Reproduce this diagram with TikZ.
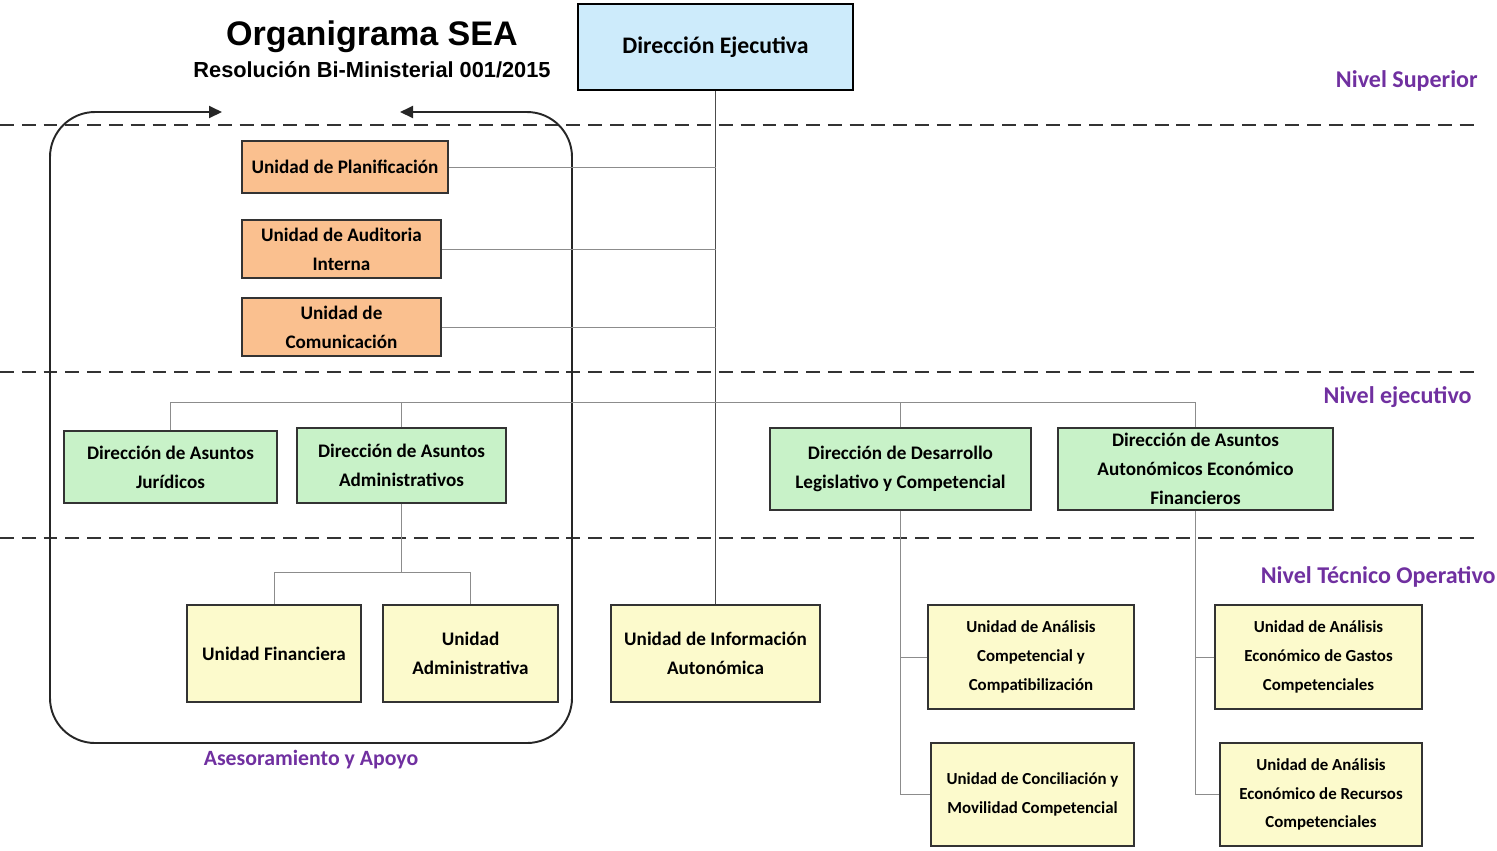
\documentclass[tikz,border=0pt]{standalone}
\usepackage{fontspec}
\setmainfont{Carlito}
\newfontfamily\titlefont{Liberation Sans}
\usetikzlibrary{arrows.meta}

\definecolor{blueBox}{HTML}{CDEBFB}
\definecolor{orangeBox}{HTML}{FAC08F}
\definecolor{greenBox}{HTML}{C8F2C8}
\definecolor{yellowBox}{HTML}{FCFACC}
\definecolor{nivelPurple}{HTML}{7030A0}
\definecolor{connGray}{HTML}{8C8C8C}

\tikzset{
  unit/.style 2 args={minimum width=#1*0.02cm, minimum height=#2*0.02cm,
    inner sep=0pt, align=center, font=\bfseries\fontsize{10.9}{16.4}\selectfont},
  dirbox/.style={draw=black, line width=1.2pt, fill=blueBox},
  planbox/.style={draw=black!80, line width=0.8pt, fill=orangeBox},
  execbox/.style={draw=black!80, line width=0.8pt, fill=greenBox},
  tecbox/.style={draw=black!80, line width=0.8pt, fill=yellowBox},
  small/.style={font=\bfseries\fontsize{9.6}{16.4}\selectfont},
  conn/.style={draw=connGray, line width=0.5pt},
  nivel/.style={text=nivelPurple, font=\bfseries\fontsize{13.7}{16}\selectfont, inner sep=0pt},
  levelline/.style={draw=black!80, line width=0.8pt, dash pattern=on 7.9pt off 4.5pt},
  frame/.style={draw=black!85, line width=1.1pt, rounded corners=0.9cm}
}

\begin{document}
\begin{tikzpicture}[x=0.02cm,y=-0.02cm]
 \useasboundingbox (0,0) rectangle (1497,850);

 % niveles
 \draw[levelline] (0,125) -- (1478,125);
 \draw[levelline] (0,372) -- (1478,372);
 \draw[levelline] (0,538) -- (1478,538);

 \node[nivel,anchor=east] (nsup) at (1478,81) {Nivel Superior};
 \node[nivel,anchor=east] (nejec) at (1472,397) {Nivel ejecutivo};
 \node[nivel,anchor=east] (ntec) at (1496,577) {Nivel Técnico Operativo};

 % titulo
 \node[font=\titlefont\bfseries\fontsize{19.4}{22}\selectfont] (title) at (372,37) {Organigrama SEA};
 \node[font=\titlefont\bfseries\fontsize{12.4}{14}\selectfont] (subtitle) at (372,70) {Resolución Bi-Ministerial 001/2015};

 % asesoramiento y apoyo
 \draw[frame,{Triangle[length=2.6mm,width=2.4mm]}-{Triangle[length=2.6mm,width=2.4mm]}]
   (222,112) -- (50,112) -- (50,743) -- (572,743) -- (572,112) -- (400,112);
 \node[nivel,font=\bfseries\fontsize{12.4}{14}\selectfont] (apoyo) at (311,760) {Asesoramiento y Apoyo};

 % cajas
 \node[unit={275}{86},dirbox,font=\bfseries\fontsize{13.5}{16}\selectfont] (dirEj) at (715.5,47) {Dirección Ejecutiva};

 \node[unit={206}{52},planbox] (planif) at (345,167) {Unidad de Planificación};
 \node[unit={199}{58},planbox] (audit) at (341.5,249) {Unidad de Auditoria\\Interna};
 \node[unit={199}{58},planbox] (comun) at (341.5,327) {Unidad de\\Comunicación};

 \node[unit={213}{72},execbox] (jurid) at (170.5,467) {Dirección de Asuntos\\Jurídicos};
 \node[unit={209}{75},execbox] (admins) at (401.5,465.5) {Dirección de Asuntos\\Administrativos};
 \node[unit={261}{82},execbox] (desarr) at (900.5,469) {Dirección de Desarrollo\\Legislativo y Competencial};
 \node[unit={275}{82},execbox] (autonom) at (1195.5,469) {Dirección de Asuntos\\Autonómicos Económico\\Financieros};

 \node[unit={174}{97},tecbox] (financ) at (274,653.5) {Unidad Financiera};
 \node[unit={175}{97},tecbox] (adminva) at (470.5,653.5) {Unidad\\Administrativa};
 \node[unit={209}{97},tecbox] (inform) at (715.5,653.5) {Unidad de Información\\Autonómica};
 \node[unit={206}{104},tecbox,small] (anacomp) at (1031,657) {Unidad de Análisis\\Competencial y\\Compatibilización};
 \node[unit={203}{103},tecbox,small] (concil) at (1032.5,794.5) {Unidad de Conciliación y\\Movilidad Competencial};
 \node[unit={207}{104},tecbox,small] (anagast) at (1318.5,657) {Unidad de Análisis\\Económico de Gastos\\Competenciales};
 \node[unit={202}{103},tecbox,small] (anarec) at (1321,794.5) {Unidad de Análisis\\Económico de Recursos\\Competenciales};

 % conectores
 \coordinate (busE) at (715.5,402);
 \coordinate (busA) at (401.5,572);

 \draw[conn,draw=black!70] (dirEj.south) -- (inform.north);
 \draw[conn] (planif.east) -- (planif.east -| dirEj.south);
 \draw[conn] (audit.east) -- (audit.east -| dirEj.south);
 \draw[conn] (comun.east) -- (comun.east -| dirEj.south);

 \draw[conn] (jurid.north) |- (autonom.north |- busE) -- (autonom.north);
 \draw[conn] (admins.north) -- (admins.north |- busE);
 \draw[conn] (desarr.north) -- (desarr.north |- busE);

 \draw[conn] (admins.south) -- (busA);
 \draw[conn] (financ.north) |- (adminva.north |- busA) -- (adminva.north);

 \draw[conn] (desarr.south) |- (concil.west);
 \draw[conn] (anacomp.west) -- (anacomp.west -| desarr.south);
 \draw[conn] (autonom.south) |- (anarec.west);
 \draw[conn] (anagast.west) -- (anagast.west -| autonom.south);
\end{tikzpicture}
\end{document}
